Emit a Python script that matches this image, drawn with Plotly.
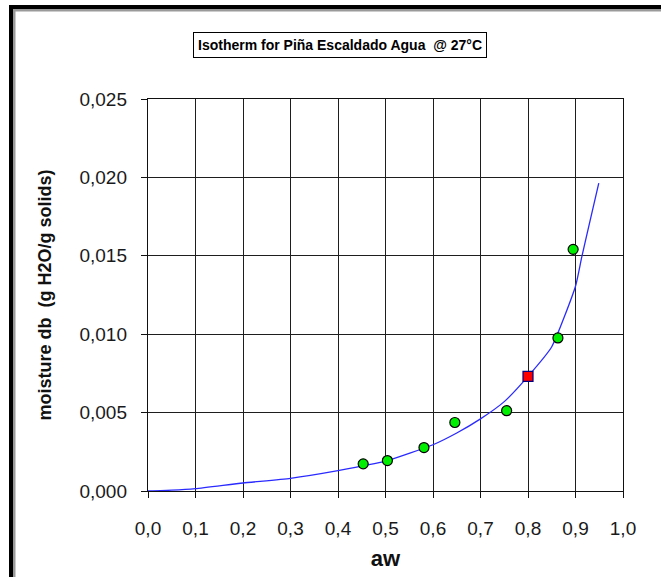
import plotly.graph_objects as go

# Measured sorption points (water activity vs. moisture, dry basis)
aw_measured = [0.453, 0.504, 0.581, 0.646, 0.755, 0.863, 0.895]
moisture_measured = [0.00173, 0.00194, 0.00277, 0.00437, 0.00512, 0.00976, 0.01541]

# Reference point
aw_ref = [0.80]
moisture_ref = [0.00731]

# Fitted isotherm curve
aw_curve = [0.0, 0.05, 0.1, 0.2, 0.3, 0.4, 0.5, 0.6, 0.65, 0.7, 0.75, 0.8, 0.85, 0.9, 0.913, 0.93, 0.949]
moisture_curve = [0.0, 0.00005, 0.00015, 0.00051, 0.00081, 0.0013, 0.0019, 0.00295, 0.0037,
                  0.0046, 0.0057, 0.00731, 0.0092, 0.01306, 0.0149, 0.01715, 0.01963]

title_text = "Isotherm for Piña Escaldado Agua  @ 27°C"
x_title = "aw"
y_title = "moisture db  (g H2O/g solids)"

FONT = "Liberation Sans, Arial, sans-serif"

fig = go.Figure()

fig.add_trace(go.Scatter(
    x=aw_curve, y=moisture_curve, mode="lines",
    line=dict(color="#2a2aff", width=1.3, shape="spline", smoothing=0.5),
    showlegend=False, hoverinfo="skip",
))
fig.add_trace(go.Scatter(
    x=aw_measured, y=moisture_measured, mode="markers",
    marker=dict(symbol="circle", size=10, color="#00ee00",
                line=dict(color="#000000", width=1.2)),
    showlegend=False,
))
fig.add_trace(go.Scatter(
    x=aw_ref, y=moisture_ref, mode="markers",
    marker=dict(symbol="square", size=10, color="#ff0000",
                line=dict(color="#000080", width=1.2)),
    showlegend=False,
))

# Plot-area geometry in pixels (for placing the frame and title in paper units)
L, R, T, B = 148, 623, 99, 491
W, H = R - L, B - T


def px_x(p):
    return (p - L) / W


def px_y(p):
    return (B - p) / H


axis_common = dict(
    showgrid=True, gridcolor="#1e1e1e", gridwidth=1.4,
    showline=True, linecolor="#111111", linewidth=1.4, mirror=True,
    ticks="outside", ticklen=6, tickwidth=1.4, tickcolor="#111111",
    tickfont=dict(family=FONT, size=19, color="#1a1a1a"),
    zeroline=False,
)

fig.update_layout(
    width=661, height=577,
    margin=dict(l=L, r=661 - R, t=T, b=577 - B),
    paper_bgcolor="white", plot_bgcolor="white",
    separators=",.",
    xaxis=dict(range=[0, 1.0], dtick=0.1, tick0=0, tickformat=".1f",
               ticklabelstandoff=14,
               title=dict(text=f"<b>{x_title}</b>",
                          font=dict(family=FONT, size=22, color="#111111"),
                          standoff=12),
               **axis_common),
    yaxis=dict(range=[0, 0.025], dtick=0.005, tick0=0, tickformat=".3f",
               ticklabelstandoff=10,
               title=dict(text=f"<b>{y_title}</b>",
                          font=dict(family=FONT, size=18, color="#111111"),
                          standoff=23),
               **axis_common),
    annotations=[
        dict(text=f"<b>{title_text}</b>", xref="paper", yref="paper",
             x=px_x(340), y=px_y(44.5), xanchor="center", yanchor="middle",
             showarrow=False, font=dict(family=FONT, size=14, color="#000000"),
             bordercolor="#000000", borderwidth=1, borderpad=4, bgcolor="white"),
    ],
    shapes=[
        # outer chart frame: black band with a grey inner edge (top and left)
        dict(type="rect", xref="paper", yref="paper", layer="above",
             x0=px_x(9), x1=px_x(675), y0=px_y(5), y1=px_y(9),
             fillcolor="#000000", line=dict(width=0)),
        dict(type="rect", xref="paper", yref="paper", layer="above",
             x0=px_x(13), x1=px_x(675), y0=px_y(9), y1=px_y(11.5),
             fillcolor="#9a9a9a", line=dict(width=0)),
        dict(type="rect", xref="paper", yref="paper", layer="above",
             x0=px_x(9), x1=px_x(13), y0=px_y(5), y1=px_y(590),
             fillcolor="#000000", line=dict(width=0)),
        dict(type="rect", xref="paper", yref="paper", layer="above",
             x0=px_x(13), x1=px_x(15.5), y0=px_y(9), y1=px_y(590),
             fillcolor="#9a9a9a", line=dict(width=0)),
    ],
)

fig.write_html("out.html")
